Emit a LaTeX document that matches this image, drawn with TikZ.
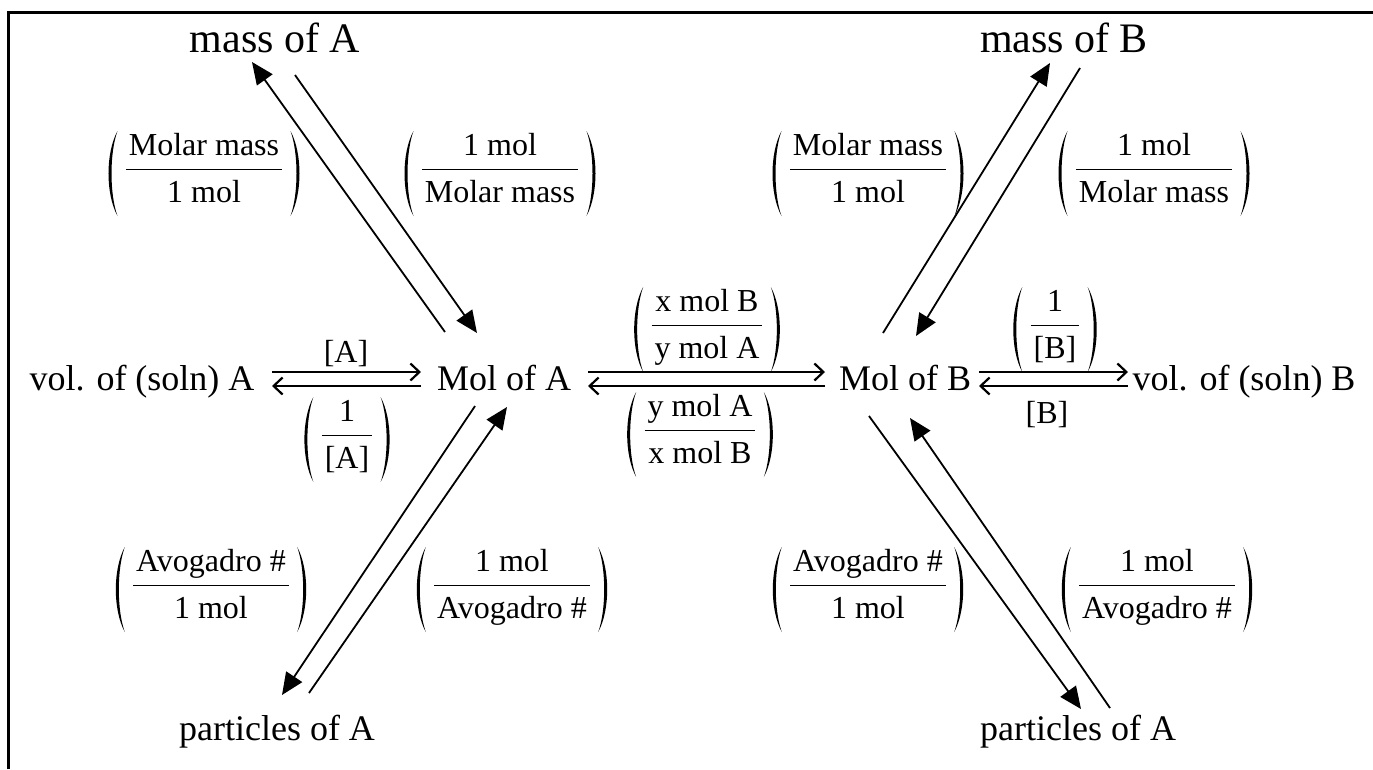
\documentclass[tikz,border=0pt]{standalone}
\usepackage{fix-cm}
\usepackage{fontspec}
\setmainfont{Liberation Serif}
\usetikzlibrary{arrows.meta}
\tikzset{
  mainlbl/.style={font=\fontsize{36}{40}\selectfont, inner sep=0pt, anchor=base},
  biglbl/.style={font=\fontsize{42}{48}\selectfont, inner sep=0pt, anchor=base},
  smalllbl/.style={font=\fontsize{32}{36}\selectfont, inner sep=0pt},
  diagarrow/.style={line width=1.8pt, -{Triangle[length=22pt,width=19pt]}},
  horizarrow/.style={line width=2.2pt, -{Straight Barb[length=9pt,width=17pt]}},
  parenfill/.style={fill=black},
}
% #1 name, #2 position (bar centre), #3 numerator, #4 denominator
\newcommand\fracnode[4]{%
  \node[smalllbl] (#1) at (#2) {$\rule[-34.5pt]{0pt}{85pt}\displaystyle\frac{\mbox{\hspace{3pt}#3\hspace{3pt}}}{\mbox{\hspace{3pt}\raisebox{-4pt}{#4}\hspace{3pt}}}$};
  \fill[parenfill] ([xshift=-7pt,yshift=38pt]#1.west)
     .. controls ([xshift=-19pt,yshift=16pt]#1.west) and ([xshift=-19pt,yshift=-25pt]#1.west) .. ([xshift=-7pt,yshift=-47pt]#1.west)
     .. controls ([xshift=-15pt,yshift=-25pt]#1.west) and ([xshift=-15pt,yshift=16pt]#1.west) .. cycle;
  \fill[parenfill] ([xshift=7pt,yshift=38pt]#1.east)
     .. controls ([xshift=19pt,yshift=16pt]#1.east) and ([xshift=19pt,yshift=-25pt]#1.east) .. ([xshift=7pt,yshift=-47pt]#1.east)
     .. controls ([xshift=15pt,yshift=-25pt]#1.east) and ([xshift=15pt,yshift=16pt]#1.east) .. cycle;
}
\begin{document}
\begin{tikzpicture}[x=1pt,y=-1pt]
\useasboundingbox (0,0) rectangle (1373,769);
\fill[white] (0,0) rectangle (1373,769);
% frame
\draw[line width=3pt] (8.5,769) -- (8.5,12.5) -- (1373,12.5);

% main nodes
\node[biglbl] (massA) at (275,52) {mass of A};
\node[biglbl] (massB) at (1064,52) {mass of B};
\node[mainlbl] (volA) at (142,390) {vol. of (soln) A};
\node[mainlbl] (molA) at (504,390) {Mol of A};
\node[mainlbl] (molB) at (905,390) {Mol of B};
\node[mainlbl] (volB) at (1244,390) {vol. of (soln) B};
\node[mainlbl] (partA) at (277,740) {particles of A};
\node[mainlbl] (partB) at (1078,740) {particles of A};

% coordinates for connector ends
\coordinate (a1s) at (445,332); \coordinate (a1e) at (252,62);
\coordinate (a2s) at (295,75);  \coordinate (a2e) at (477,333);
\coordinate (b1s) at (475,406); \coordinate (b1e) at (282,695);
\coordinate (b2s) at (309,693); \coordinate (b2e) at (507,407);
\coordinate (c1s) at (883,333); \coordinate (c1e) at (1050,63);
\coordinate (c2s) at (1080,68); \coordinate (c2e) at (916,336);
\coordinate (d1s) at (869,416); \coordinate (d1e) at (1081,709);
\coordinate (d2s) at (1110,708); \coordinate (d2e) at (910,418);

\coordinate (h1a) at (272,372); \coordinate (h1b) at (421,372);
\coordinate (h2a) at (421,386); \coordinate (h2b) at (272,386);
\coordinate (h3a) at (588,372); \coordinate (h3b) at (825,372);
\coordinate (h4a) at (825,386); \coordinate (h4b) at (588,386);
\coordinate (h5a) at (979,372); \coordinate (h5b) at (1128,372);
\coordinate (h6a) at (1128,386); \coordinate (h6b) at (979,386);

% diagonal arrows
\draw[diagarrow] (a1s) -- (a1e);
\draw[diagarrow] (a2s) -- (a2e);
\draw[diagarrow] (b1s) -- (b1e);
\draw[diagarrow] (b2s) -- (b2e);
\draw[diagarrow] (c1s) -- (c1e);
\draw[diagarrow] (c2s) -- (c2e);
\draw[diagarrow] (d1s) -- (d1e);
\draw[diagarrow] (d2s) -- (d2e);

% horizontal arrows
\draw[horizarrow] (h1a) -- (h1b);
\draw[horizarrow] (h2a) -- (h2b);
\draw[horizarrow] (h3a) -- (h3b);
\draw[horizarrow] (h4a) -- (h4b);
\draw[horizarrow] (h5a) -- (h5b);
\draw[horizarrow] (h6a) -- (h6b);

% labels
\fracnode{l1}{204,169}{Molar mass}{1 mol}
\fracnode{l2}{500,169}{1 mol}{Molar mass}
\fracnode{l3}{868,169}{Molar mass}{1 mol}
\fracnode{l4}{1154,169}{1 mol}{Molar mass}
\fracnode{l5}{211,585}{Avogadro \#}{1 mol}
\fracnode{l6}{512,585}{1 mol}{Avogadro \#}
\fracnode{l7}{868,585}{Avogadro \#}{1 mol}
\fracnode{l8}{1157,585}{1 mol}{Avogadro \#}
\fracnode{l9}{707,325}{x mol B}{y mol A}
\fracnode{l10}{700,430}{y mol A}{x mol B}
\node[smalllbl, anchor=base] (l11) at (346,362) {[A]};
\fracnode{l12}{347,435}{1}{[A]}
\fracnode{l13}{1055,325}{1}{[B]}
\node[smalllbl, anchor=base] (l14) at (1047,423) {[B]};
\end{tikzpicture}
\end{document}
